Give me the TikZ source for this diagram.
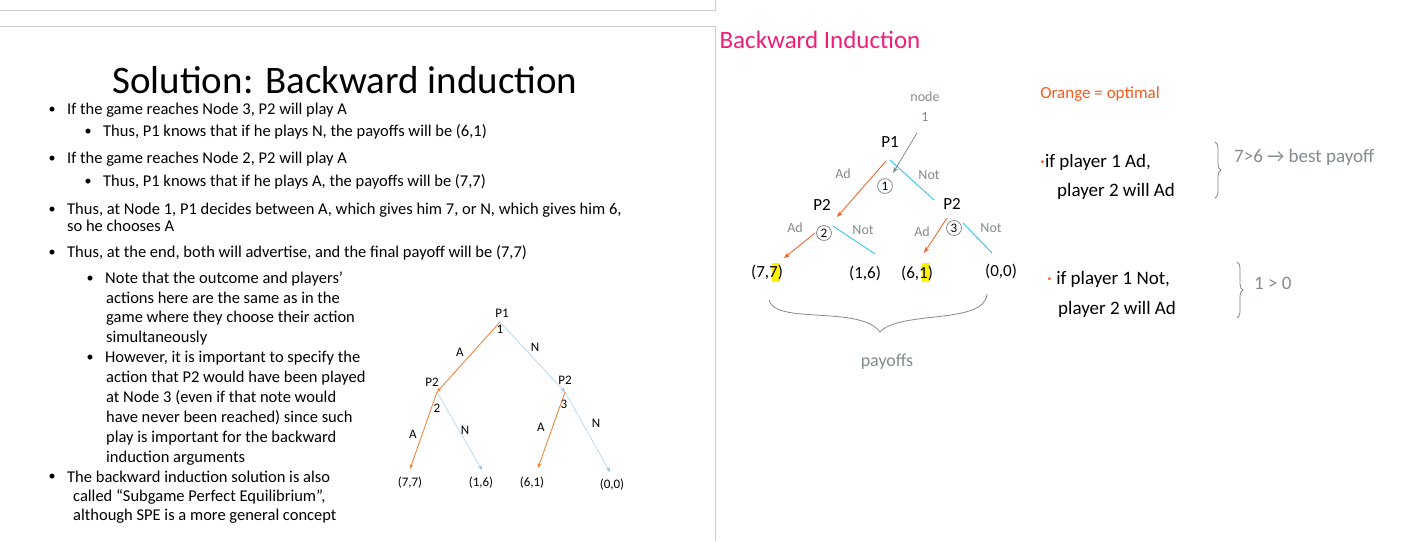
\documentclass[tikz,border=0pt]{standalone}
\usepackage{fontspec}
\setmainfont{Carlito}
\usetikzlibrary{arrows.meta,decorations.pathreplacing}
\definecolor{org}{RGB}{237,125,49}
\definecolor{lblue}{RGB}{150,190,230}
\definecolor{hor}{RGB}{245,90,30}
\definecolor{hblue}{RGB}{40,190,240}
\definecolor{hgray}{RGB}{130,140,140}
\definecolor{pink}{RGB}{240,30,120}
\begin{document}
\begin{tikzpicture}[x=1pt,y=-1pt,
  txt/.style={anchor=west,inner sep=0pt,font=\fontsize{16.5}{18}\selectfont},
  bul/.style={inner sep=0pt,font=\fontsize{14}{16}\selectfont},
  tl/.style={inner sep=0pt,font=\fontsize{13}{15}\selectfont},
  oarr/.style={org,thick,-{Stealth[length=5pt]}},
  barr/.style={lblue,-{Stealth[length=5pt]}},
  hw/.style={inner sep=0pt,font=\fontsize{17}{19}\selectfont},
  hwg/.style={inner sep=0pt,text=hgray,font=\fontsize{14}{16}\selectfont},
  horr/.style={hor,thick,-{Stealth[length=6pt,open]}},
  hbl/.style={hblue,thick},
  circ/.style={circle,draw=hgray,thick,inner sep=1.5pt,text=black,font=\fontsize{13}{15}\selectfont}]
\useasboundingbox (0,0) rectangle (1410,541);
\draw[gray!40] (0,10) -- (715,10) -- (715,0);
\draw[gray!40] (0,26) -- (715,26) -- (715,541);
\node[inner sep=0pt,font=\fontsize{39}{42}\selectfont] (title) at (345,80) {Solution: Backward induction};
\foreach \y/\x/\t [count=\i] in {
 110/52/{If the game reaches Node 3, P2 will play A},
 132/88/{Thus, P1 knows that if he plays N, the payoffs will be (6,1)},
 159/52/{If the game reaches Node 2, P2 will play A},
 182/88/{Thus, P1 knows that if he plays A, the payoffs will be (7,7)},
 210/52/{Thus, at Node 1, P1 decides between A, which gives him 7, or N, which gives him 6,},
 253/52/{Thus, at the end, both will advertise, and the final payoff will be (7,7)},
 279/90/{Note that the outcome and players’},
 358/90/{However, it is important to specify the},
 477/52/{The backward induction solution is also}}
 {\node[bul] (b\i) at (\x,\y) {•}; \node[txt] (t\i) at (\x+15,\y) {\t};}
\node[txt] (u1) at (67,226) {so he chooses A};
\foreach \y/\t [count=\i] in {
 298/{actions here are the same as in the},
 318/{game where they choose their action},
 338/{simultaneously},
 378/{action that P2 would have been played},
 398/{at Node 3 (even if that note would},
 418/{have never been reached) since such},
 438/{play is important for the backward},
 458/{induction arguments}}
 {\node[txt] (v\i) at (106,\y) {\t};}
\node[txt] (w1) at (73,497) {called “Subgame Perfect Equilibrium”,};
\node[txt] (w2) at (73,516) {although SPE is a more general concept};
% left tree
\node[tl] (lp1) at (502,313) {P1};
\node[tl] (l1) at (500,329) {1};
\coordinate (n1) at (500,322);
\node[tl] (lp2a) at (432,382) {P2};
\node[tl] (lp2b) at (565,380) {P2};
\coordinate (n2) at (437,392);
\coordinate (n3) at (565,392);
\node[tl] (l2) at (437,408) {2};
\node[tl] (l3) at (564,404) {3};
\node[tl] (o1) at (410,483) {(7,7)};
\node[tl] (o2) at (481,483) {(1,6)};
\node[tl] (o3) at (532,483) {(6,1)};
\node[tl] (o4) at (612,485) {(0,0)};
\coordinate (e1) at (410,469);\coordinate (e2) at (482,470);
\coordinate (e3) at (538,468);\coordinate (e4) at (610,472);
\draw[oarr] (n1) -- (n2);
\draw[barr] (n1) -- (n3);
\draw[oarr] (n2) -- (e1);
\draw[barr] (n2) -- (e2);
\draw[oarr] (n3) -- (e3);
\draw[barr] (n3) -- (e4);
\node[tl] (la1) at (460,352) {A};
\node[tl] (ln1) at (535,347) {N};
\node[tl] (la2) at (413,434) {A};
\node[tl] (ln2) at (465,430) {N};
\node[tl] (la3) at (541,427) {A};
\node[tl] (ln3) at (596,423) {N};
% right side
\node[inner sep=0pt,text=pink,font=\fontsize{25}{28}\selectfont] (bi) at (820,40) {Backward Induction};
\node[hwg] (nd) at (925,97) {node};
\node[hwg] (nd1) at (925,117) {1};
\node[hw] (rp1) at (890,142) {P1};
\node[hw] (rp2a) at (822,205) {P2};
\node[hw] (rp2b) at (952,204) {P2};
\node[circ] (c1) at (885,186) {1};
\node[circ] (c2) at (824,233) {2};
\node[circ] (c3) at (954,228) {3};
\draw[hgray,thick,-{Stealth[length=6pt,open]}] (917,133) -- (893,173);
\draw[horr] (886,161) -- (837,217);
\draw[hbl] (890,160) -- (934,200);
\draw[horr] (815,233) -- (784,258);
\draw[hbl] (833,226) -- (875,254);
\draw[horr] (947,218) -- (924,253);
\draw[hbl] (963,223) -- (992,253);
\node[hwg] (ad1) at (843,174) {Ad};
\node[hwg] (not1) at (929,175) {Not};
\node[hwg] (ad2) at (795,228) {Ad};
\node[hwg] (not2) at (863,230) {Not};
\node[hwg] (ad3) at (922,232) {Ad};
\node[hwg] (not3) at (991,228) {Not};
\fill[yellow] (772,263) rectangle (780,282);
\fill[yellow] (922,263) rectangle (930,282);
\node[hw] (q1) at (767,272) {(7,7)};
\node[hw] (q2) at (865,273) {(1,6)};
\node[hw] (q3) at (917,273) {(6,1)};
\node[hw] (q4) at (1001,271) {(0,0)};
\draw[hgray,thick] (769,300) .. controls (775,325) and (860,305) .. (880,332) .. controls (900,310) and (985,325) .. (987,294);
\node[hwg,font=\fontsize{18}{20}\selectfont] (pay) at (887,362) {payoffs};
\node[inner sep=0pt,text=hor,font=\fontsize{17}{19}\selectfont] (oo) at (1100,94) {Orange = optimal};
\node[inner sep=0pt,anchor=west,font=\fontsize{19}{21}\selectfont] (r1) at (1040,162) {\textcolor{hor}{·}if player 1 Ad,};
\node[inner sep=0pt,anchor=west,font=\fontsize{19}{21}\selectfont] (r2) at (1057,191) {player 2 will Ad};
\node[inner sep=0pt,anchor=west,font=\fontsize{19}{21}\selectfont] (r3) at (1047,279) {\textcolor{hor}{·} if player 1 Not,};
\node[inner sep=0pt,anchor=west,font=\fontsize{19}{21}\selectfont] (r4) at (1058,309) {player 2 will Ad};
\draw[hgray,thick,decorate,decoration={brace,amplitude=6pt}] (1215,142) -- (1215,198);
\draw[hgray,thick,decorate,decoration={brace,amplitude=6pt}] (1237,262) -- (1237,318);
\node[hwg,anchor=west,font=\fontsize{19}{21}\selectfont] (g1) at (1234,157) {7>6 → best payoff};
\node[hwg,anchor=west,font=\fontsize{19}{21}\selectfont] (g2) at (1254,283) {1 > 0};
\end{tikzpicture}
\end{document}
